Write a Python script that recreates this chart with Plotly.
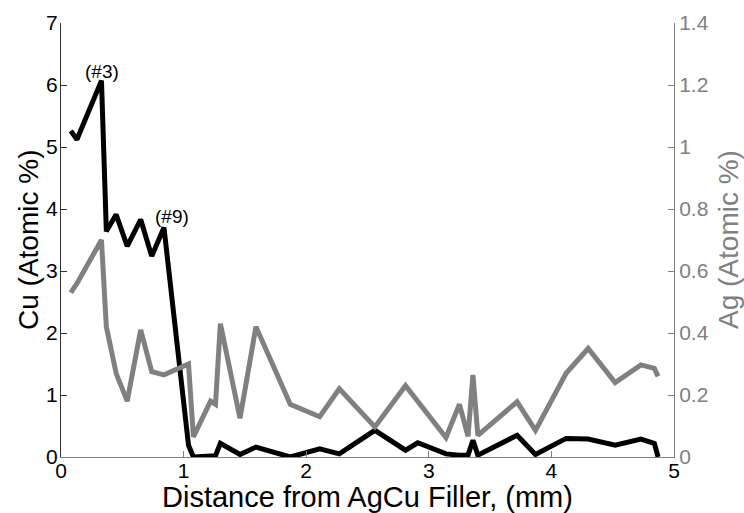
import plotly.graph_objects as go

# Measurement positions along the joint (mm)
distance_mm = [0.08, 0.13, 0.33, 0.37, 0.45, 0.54, 0.65, 0.74, 0.84, 1.04,
               1.08, 1.22, 1.26, 1.30, 1.46, 1.59, 1.87, 2.11, 2.27, 2.56,
               2.81, 2.91, 3.14, 3.25, 3.32, 3.36, 3.40, 3.72, 3.87, 4.12,
               4.30, 4.52, 4.73, 4.84, 4.87]

# Cu content (atomic %), left axis
cu_atomic = [5.26, 5.12, 6.07, 3.64, 3.91, 3.40, 3.83, 3.24, 3.70, 0.19,
             0.00, 0.00, 0.02, 0.22, 0.04, 0.16, 0.00, 0.13, 0.05, 0.43,
             0.11, 0.23, 0.05, 0.03, 0.03, 0.27, 0.03, 0.35, 0.04, 0.30,
             0.29, 0.19, 0.29, 0.22, 0.00]

# Ag content (atomic %), right axis
ag_atomic = [0.53, 0.56, 0.70, 0.42, 0.27, 0.18, 0.41, 0.275, 0.265, 0.30,
             0.065, 0.18, 0.17, 0.43, 0.125, 0.42, 0.17, 0.13, 0.22, 0.097,
             0.23, 0.18, 0.063, 0.17, 0.067, 0.265, 0.07, 0.178, 0.086, 0.27,
             0.35, 0.24, 0.297, 0.286, 0.26]

x_ticks = [0, 1, 2, 3, 4, 5]
cu_ticks = [0, 1, 2, 3, 4, 5, 6, 7]
ag_ticks = [0, 0.2, 0.4, 0.6, 0.8, 1, 1.2, 1.4]
ag_tick_text = ["0", "0.2", "0.4", "0.6", "0.8", "1", "1.2", "1.4"]

# Labelled sample points
callouts = [("(#3)", 0.335, 6.22), ("(#9)", 0.905, 3.88)]

FONT = "Liberation Sans, Arial, sans-serif"
GRAY = "#808080"
DARK = "#333333"

fig = go.Figure()
fig.add_trace(go.Scatter(x=distance_mm, y=ag_atomic, mode="lines", yaxis="y2",
                         line=dict(color=GRAY, width=5), showlegend=False))
fig.add_trace(go.Scatter(x=distance_mm, y=cu_atomic, mode="lines",
                         line=dict(color="black", width=5), showlegend=False))

for text, xv, yv in callouts:
    fig.add_annotation(x=xv, y=yv, xref="x", yref="y", text=text, showarrow=False,
                       font=dict(family=FONT, size=19, color="black"))

# Axis titles
fig.add_annotation(x=0, y=0.5, xref="paper", yref="paper", xshift=-33,
                   xanchor="center", yanchor="middle",
                   text="Cu (Atomic %)", textangle=-90, showarrow=False,
                   font=dict(family=FONT, size=28, color="black"))
fig.add_annotation(x=1, y=0.5, xref="paper", yref="paper", xshift=54,
                   xanchor="center", yanchor="middle",
                   text="Ag (Atomic %)", textangle=-90, showarrow=False,
                   font=dict(family=FONT, size=28, color=GRAY))
fig.add_annotation(x=0.5, y=0, xref="paper", yref="paper", yshift=-40,
                   xanchor="center", yanchor="middle",
                   text="Distance from AgCu Filler, (mm)", showarrow=False,
                   font=dict(family=FONT, size=29, color="black"))

fig.update_layout(
    width=744, height=513,
    margin=dict(l=61, r=70, t=23, b=56, autoexpand=False),
    paper_bgcolor="white", plot_bgcolor="white",
    font=dict(family=FONT, size=21, color="black"),
    xaxis=dict(range=[0, 5], tickvals=x_ticks, ticks="inside", ticklen=6,
               tickcolor=GRAY, showline=True, linecolor=GRAY, linewidth=1,
               showgrid=False, zeroline=False, ticklabelstandoff=-5),
    xaxis2=dict(range=[0, 5], tickvals=x_ticks, ticks="inside", ticklen=6,
                tickcolor=DARK, showline=True, linecolor=DARK,
                side="top", overlaying="x", showticklabels=False,
                showgrid=False, zeroline=False),
    yaxis=dict(range=[0, 7], tickvals=cu_ticks, ticks="inside", ticklen=6,
               tickcolor=DARK, showline=True, linecolor=DARK,
               showgrid=False, zeroline=False, ticklabelstandoff=-2),
    yaxis2=dict(range=[0, 1.4], tickvals=ag_ticks, ticktext=ag_tick_text,
                overlaying="y", side="right", ticks="inside", ticklen=6,
                tickcolor=GRAY, showline=True, linecolor=GRAY,
                tickfont=dict(color=GRAY), showgrid=False, zeroline=False),
)

fig.write_html("out.html")
